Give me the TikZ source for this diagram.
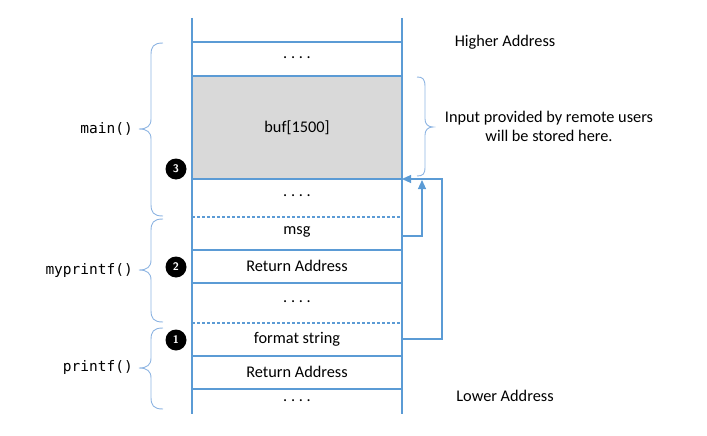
\documentclass[tikz,border=0pt]{standalone}
\usepackage{fontspec}
\setmainfont{Carlito}
\newfontfamily\codefont{DejaVu Sans Mono}
\usetikzlibrary{arrows.meta}
\definecolor{stackblue}{HTML}{5B9BD5}
\definecolor{braceblue}{HTML}{8DB4E2}
\definecolor{bufgray}{HTML}{D9D9D9}
\newcommand\myLbrace[3]{%
  \draw[bracestyle] (163,#1) .. controls (153,#1) and (151,{#1+4}) .. (151,{#1+12})
    -- (151,{#3-10}) .. controls (151,{#3-3}) and (147,#3) .. (139,#3)
    .. controls (147,#3) and (151,{#3+3}) .. (151,{#3+10})
    -- (151,{#2-12}) .. controls (151,{#2-4}) and (153,#2) .. (163,#2);}
\tikzset{
  wall/.style={stackblue, line width=1.1pt},
  dashwall/.style={stackblue, line width=1.1pt, dash pattern=on 3pt off 2pt},
  bracestyle/.style={braceblue, line width=0.9pt},
  cell/.style={font=\fontsize{16.3}{19}\selectfont, inner sep=0pt},
  side/.style={font=\fontsize{16.3}{19}\selectfont, inner sep=0pt, align=center},
  func/.style={font=\codefont\fontsize{14.5}{17}\selectfont, inner sep=0pt, anchor=east},
  badge/.style={circle, fill=black, minimum size=21pt, inner sep=0pt, text=white, font=\sffamily\bfseries\fontsize{11}{12}\selectfont},
  arr/.style={stackblue, line width=1.1pt, -{Triangle[length=9pt,width=8pt]}},
}
\begin{document}
\begin{tikzpicture}[x=1pt,y=-1pt]
\useasboundingbox (0,0) rectangle (707,436);
% buffer fill
\fill[bufgray] (192,76) rectangle (402,179);
% walls
\draw[wall] (192,18) -- (192,414);
\draw[wall] (402,18) -- (402,414);
\foreach \yy in {42,76,179,250,283,356,389}
  \draw[wall] (192,\yy) -- (402,\yy);
\draw[dashwall] (192,217) -- (402,217);
\draw[dashwall] (192,323) -- (402,323);
% cell texts
\node[cell] (d1) at (297,58) {.\ .\ .\ .};
\node[cell] (buf) at (297,128) {buf[1500]};
\node[cell] (d2) at (297,196) {.\ .\ .\ .};
\node[cell] (msg) at (297,232) {msg};
\node[cell] (ra1) at (297,266) {Return Address};
\node[cell] (d3) at (297,302) {.\ .\ .\ .};
\node[cell] (fs) at (297,339) {format string};
\node[cell] (ra2) at (297,372) {Return Address};
\node[cell] (d4) at (297,401) {.\ .\ .\ .};
% badges
\node[badge] (b3) at (176,169) {3};
\node[badge] (b2) at (176,267) {2};
\node[badge] (b1) at (176,340) {1};
% left braces and labels
\myLbrace{43}{216}{129}
\myLbrace{219}{322}{270}
\myLbrace{328}{409}{368}
\node[func] (fmain) at (133,129) {main()};
\node[func] (fmy) at (133,270) {myprintf()};
\node[func] (fpr) at (133,367) {printf()};
% right brace
\draw[bracestyle] (417,77) .. controls (423,77) and (425,79) .. (425,87)
  -- (425,119) .. controls (425,124) and (428,127) .. (433,127)
  .. controls (428,127) and (425,130) .. (425,135)
  -- (425,167) .. controls (425,174) and (423,176) .. (417,176);
\node[side] (inp) at (549,126) {Input provided by remote users\\will be stored here.};
\node[side] (hi) at (505,42) {Higher Address};
\node[side] (lo) at (505,396) {Lower Address};
% arrows
\coordinate (fsR) at (402,339);
\coordinate (msgR) at (402,236);
\coordinate (bufB) at (402,179);
\coordinate (upT) at (422,180);
\draw[arr] (fsR) -- (442,339) |- (bufB);
\draw[arr] (msgR) -| (upT);
\end{tikzpicture}
\end{document}
